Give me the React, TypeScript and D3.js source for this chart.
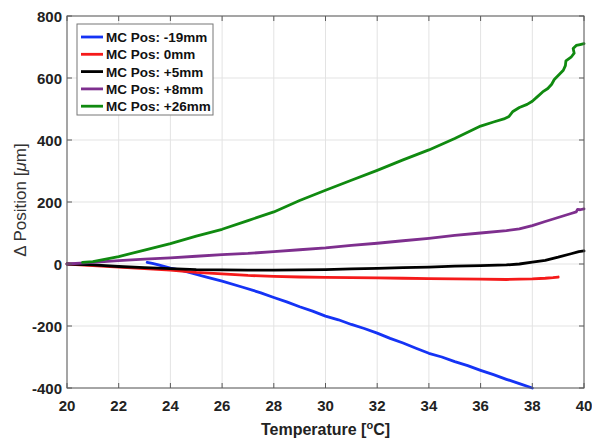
import React from "react";
import * as d3 from "d3";

const xTicks = [20, 22, 24, 26, 28, 30, 32, 34, 36, 38, 40];
const yTicks = [-400, -200, 0, 200, 400, 600, 800];

const seriesNames = ["MC Pos: -19mm", "MC Pos: 0mm", "MC Pos: +5mm", "MC Pos: +8mm", "MC Pos: +26mm"];
const seriesColors = ["#1533f5", "#f51a1a", "#000000", "#7e2f8e", "#108a10"];

const blueT = [23.1, 23.3, 23.5, 24, 24.4, 24.8, 25.4, 26, 26.8, 27.5, 28, 28.5, 29, 29.5, 30, 30.5, 31, 31.5, 32, 32.5, 33, 33.5, 34, 34.5, 35, 35.5, 36, 36.5, 37, 37.5, 38];
const blueV = [5, 2, -2, -13, -20, -29, -42, -55, -75, -93, -108, -122, -138, -152, -168, -180, -195, -208, -223, -240, -255, -272, -288, -300, -315, -328, -343, -357, -372, -386, -400];

const redT = [20, 21, 22, 23, 24, 25, 26, 27, 28, 29, 30, 31, 32, 33, 34, 35, 36, 37, 37.5, 38, 38.5, 38.8, 39];
const redV = [0, -5, -10, -15, -20, -27, -32, -37, -40, -42, -43, -44, -45, -46, -47, -48, -49, -50, -49, -48, -46, -44, -42];

const blackT = [20, 21, 22, 23, 24, 25, 26, 27, 28, 29, 30, 31, 32, 33, 34, 35, 36, 37, 37.5, 38, 38.5, 39, 39.5, 39.8, 40];
const blackV = [0, -3, -8, -12, -15, -18, -19, -20, -20, -19, -18, -16, -14, -12, -10, -7, -5, -3, 0, 6, 12, 22, 33, 40, 42];

const purpleT = [20, 21, 22, 23, 24, 25, 26, 27, 28, 29, 30, 31, 32, 33, 34, 35, 36, 37, 37.5, 38, 38.5, 39, 39.5, 39.7, 39.75, 39.85, 40];
const purpleV = [0, 5, 11, 16, 20, 25, 30, 34, 40, 46, 52, 60, 67, 75, 83, 92, 100, 108, 113, 124, 137, 150, 163, 168, 176, 175, 178];

const greenT = [20.6, 21, 22, 23, 24, 25, 26, 27, 28, 29, 30, 31, 32, 33, 34, 35, 36, 36.5, 36.9, 37.1, 37.25, 37.5, 37.8, 38.0, 38.2, 38.4, 38.6, 38.75, 38.85, 39.05, 39.2, 39.28, 39.3, 39.5, 39.62, 39.58, 39.7, 39.85, 40];
const greenV = [5, 8, 24, 45, 66, 90, 112, 140, 168, 205, 238, 270, 302, 336, 368, 405, 445, 458, 468, 476, 492, 505, 515, 525, 540, 555, 566, 580, 595, 612, 625, 640, 655, 667, 680, 695, 705, 708, 711];

const seriesT = [blueT, redT, blackT, purpleT, greenT];
const seriesV = [blueV, redV, blackV, purpleV, greenV];

export default function App() {
  const W = 592, H = 440;
  const left = 67, right = 584, top = 16, bottom = 388;
  const x = d3.scaleLinear().domain([20, 40]).range([left, right]);
  const y = d3.scaleLinear().domain([-400, 800]).range([bottom, top]);
  const line = d3.line<[number, number]>().x(d => x(d[0])).y(d => y(d[1]));
  const font = "'Liberation Sans', Arial, sans-serif";
  const axisColor = "#5a5a5a";
  return (
    <svg width={W} height={H} style={{ position: "absolute", left: 0, top: 0, background: "#fff" }} fontFamily={font}>
      {xTicks.map(t => (
        <line key={"gx" + t} x1={x(t)} x2={x(t)} y1={top} y2={bottom} stroke="#e3e3e3" strokeWidth={1} />
      ))}
      {yTicks.map(t => (
        <line key={"gy" + t} x1={left} x2={right} y1={y(t)} y2={y(t)} stroke="#e3e3e3" strokeWidth={1} />
      ))}
      {seriesT.map((ts, i) => (
        <path key={"s" + i} d={line(ts.map((t, j) => [t, seriesV[i][j]]) as [number, number][]) || ""} fill="none" stroke={seriesColors[i]} strokeWidth={2.8} strokeLinejoin="round" strokeLinecap="round" />
      ))}
      <rect x={left} y={top} width={right - left} height={bottom - top} fill="none" stroke={axisColor} strokeWidth={1} />
      {xTicks.map(t => (
        <g key={"tx" + t}>
          <line x1={x(t)} x2={x(t)} y1={bottom} y2={bottom - 5} stroke={axisColor} />
          <line x1={x(t)} x2={x(t)} y1={top} y2={top + 5} stroke={axisColor} />
          <text x={x(t)} y={bottom + 23} textAnchor="middle" fontSize={15} fontWeight="bold" fill="#222">{t}</text>
        </g>
      ))}
      {yTicks.map(t => (
        <g key={"ty" + t}>
          <line x1={left} x2={left + 5} y1={y(t)} y2={y(t)} stroke={axisColor} />
          <line x1={right} x2={right - 5} y1={y(t)} y2={y(t)} stroke={axisColor} />
          <text x={left - 5} y={y(t) + 6} textAnchor="end" fontSize={15} fontWeight="bold" fill="#222">{t}</text>
        </g>
      ))}
      <text x={(left + right) / 2} y={435} textAnchor="middle" fontSize={16} fontWeight="bold" fill="#222">
        Temperature [<tspan dy={-6} fontSize={11}>o</tspan><tspan dy={6}>C]</tspan>
      </text>
      <text transform={`translate(26,200) rotate(-90)`} textAnchor="middle" fontSize={17} fill="#333">
        Δ Position [<tspan fontStyle="italic">μ</tspan>m]
      </text>
      <rect x={77} y={24} width={136} height={91} fill="#fff" stroke="#777" strokeWidth={1} />
      {seriesNames.map((n, i) => (
        <g key={"l" + i}>
          <line x1={81} x2={103} y1={37 + i * 17.3} y2={37 + i * 17.3} stroke={seriesColors[i]} strokeWidth={2.8} />
          <text x={106} y={37 + i * 17.3 + 5} fontSize={13.5} fontWeight="bold" fill="#111">{n}</text>
        </g>
      ))}
    </svg>
  );
}
